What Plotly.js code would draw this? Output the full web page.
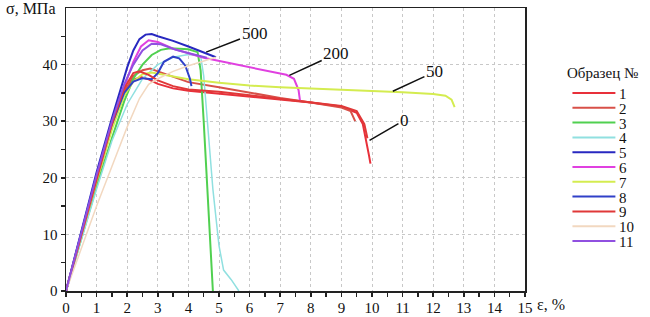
<!DOCTYPE html>
<html>
<head>
<meta charset="utf-8">
<script src="https://cdn.plot.ly/plotly-3.0.1.min.js"></script>
<style>
html,body{margin:0;padding:0;background:#fff;}
#chart{width:650px;height:317px;}
</style>
</head>
<body>
<div id="chart"></div>
<script>
// ---- data ----
const sampleNames = ["1","2","3","4","5","6","7","8","9","10","11"];
const sampleColors = ["#e8303a","#d85048","#50d050","#90e0e0","#2828c0","#e040e0","#d4ec50","#3040c8","#e03838","#f2d8c0","#9050e0"];

const x1 = [0,1,1.5,1.9,2.2,2.45,2.7,3.0,3.5,4.0,5.0,6.0,7.0,8.0,9.0,9.5,9.7,9.8,9.9,9.95];
const y1 = [0,20,29.5,35.5,37.3,37.8,37.4,36.6,35.8,35.4,34.9,34.3,33.8,33.3,32.6,31.5,29.5,27,24,22.5];

const x2 = [0,1,1.5,1.9,2.2,2.5,2.75,3.0,3.5,4.0,5.0,6.0,7.0,8.0,9.0,9.3,9.4,9.45];
const y2 = [0,19.5,29,35,38,39,39.3,38.8,37.8,36.9,36.0,35.0,34.1,33.3,32.4,31.8,30.5,30];

const x3 = [0,1,1.5,1.9,2.2,2.5,2.8,3.1,3.4,4.0,4.3,4.4,4.5,4.6,4.7,4.8];
const y3 = [0,18.5,27,33.5,37.5,40,41.7,42.6,42.9,42.7,42.2,39,30,20,10,0];

const x4 = [0,1,1.5,2.0,2.5,3.0,3.5,4.0,4.4,4.5,4.65,4.8,5.0,5.15,5.4,5.65];
const y4 = [0,18,26.5,33,37.5,40,41.3,41.8,41.5,38,28,18,8,3.7,2,0];

const x5 = [0,0.5,1,1.5,1.8,2.0,2.2,2.4,2.6,2.8,3.0,3.5,4.0,4.5,4.9];
const y5 = [0,10.5,21,30.5,36,39.5,42.5,44.5,45.3,45.4,45,44.2,43.2,42.2,41.3];

const x6 = [0,1,1.5,1.9,2.2,2.45,2.7,3.0,3.5,4.5,5.5,6.5,7.2,7.45,7.6,7.65];
const y6 = [0,20,29.5,36,40.5,43.2,44.3,44,42.8,41.2,40.1,39,38.2,37.5,35.5,33.5];

const x7 = [0,1,1.5,1.9,2.2,2.5,2.8,3.2,4.0,5.0,6.0,7.0,8.0,9.0,10.0,11.0,12.0,12.4,12.6,12.7];
const y7 = [0,19.5,28.5,34.5,37,38.3,38.6,38.2,37.4,36.8,36.3,36,35.8,35.6,35.4,35.1,34.8,34.5,33.8,32.5];

const x8 = [0,1,1.5,1.9,2.2,2.5,2.8,3.0,3.2,3.5,3.7,3.9,4.05,4.1];
const y8 = [0,20.5,29.5,35,37,37.6,37.4,38.5,40.5,41.4,41.1,39.8,37.5,36.2];

const x9 = [0,1,1.5,1.9,2.2,2.4,2.7,3.0,3.5,4.0,5.0,6.0,7.0,8.0,9.0,9.5,9.75,9.85];
const y9 = [0,20,29.5,35.8,38.5,38.8,38.2,37.2,36.2,35.6,35.2,34.6,34.0,33.4,32.7,31.8,29.5,27];

const x10 = [0,1,1.5,2.0,2.4,2.7,3.0,3.5,4.0,4.5,4.9];
const y10 = [0,15,22,29,34,36.5,37.5,38.8,39.8,40.7,41.3];

const x11 = [0,1,1.5,1.9,2.2,2.5,2.8,3.1,3.6,4.2,4.6];
const y11 = [0,20.5,30,36.5,40,42.5,43.7,43.6,42.6,41.8,41.2];

const xs = [x1,x2,x3,x4,x5,x6,x7,x8,x9,x10,x11];
const ys = [y1,y2,y3,y4,y5,y6,y7,y8,y9,y10,y11];

const xTicks = [0,1,2,3,4,5,6,7,8,9,10,11,12,13,14,15];
const yTicks = [0,10,20,30,40];
const yMinor = [5,15,25,35,45];

// curve labels: text, point on curve, label centre
const curveLabels = ["500","200","50","0"];
const labelTipX = [4.58,7.3,10.68,9.92];
const labelTipY = [42.2,38.1,35.3,26.6];
const labelTxtX = [6.16,8.83,12.04,11.06];
const labelTxtY = [45.5,41.9,38.7,30.2];

// ---- chart ----
const FONT = "Liberation Serif";
const widths = [2,2,2,1.5,2,2,2,2,2,1.5,2];
const traces = xs.map((x,i)=>({
  x: x, y: ys[i], type:"scatter", mode:"lines", name: sampleNames[i],
  line:{color: sampleColors[i], width: widths[i]}, showlegend:false, hoverinfo:"skip"
}));

const annotations = curveLabels.map((t,i)=>({
  x: labelTipX[i], y: labelTipY[i], xref:"x", yref:"y",
  ax: labelTxtX[i], ay: labelTxtY[i], axref:"x", ayref:"y",
  text: t, showarrow:true, arrowhead:0, arrowwidth:1.5, arrowcolor:"#111",
  standoff:0, startstandoff:0, font:{family:FONT,size:17,color:"#111"},
  xanchor:"center", yanchor:"middle"
}));

annotations.push({
  xref:"paper", yref:"paper", x:0, y:1, xanchor:"right", yanchor:"middle",
  xshift:-8, yshift:0, text:"σ, МПа", showarrow:false,
  font:{family:FONT,size:16,color:"#111"}
});
annotations.push({
  xref:"paper", yref:"paper", x:1, y:0, xanchor:"left", yanchor:"top",
  xshift:10, yshift:-3, height:16, text:"ε, %", showarrow:false,
  font:{family:FONT,size:16,color:"#111"}
});

// manual legend
const shapes = [];
const W = 650, H = 317, ML = 66, MR = 124.5, MT = 8, MB = 26;
const pw = W-ML-MR, ph = H-MT-MB;
const px = v => (v-ML)/pw;
const py = v => (H-MB-v)/ph;
annotations.push({
  xref:"paper", yref:"paper", x:px(566), y:py(73), xanchor:"left", yanchor:"middle",
  text:"Образец №", showarrow:false, font:{family:FONT,size:15,color:"#111"}
});
sampleNames.forEach((n,i)=>{
  const yy = 93 + i*14.8;
  shapes.push({type:"line", xref:"paper", yref:"paper", x0:px(573), x1:px(616),
    y0:py(yy), y1:py(yy), line:{color:sampleColors[i], width:2}});
  annotations.push({xref:"paper", yref:"paper", x:px(618), y:py(yy+1), xanchor:"left",
    yanchor:"middle", height:12, text:n, showarrow:false, font:{family:FONT,size:15,color:"#111"}});
});

const axisCommon = {
  showline:true, linecolor:"#222", linewidth:1.5, mirror:true,
  ticks:"outside", ticklen:4, tickwidth:1.5, tickcolor:"#222",
  showgrid:true, gridcolor:"#c8c8c8", griddash:"dot", gridwidth:1,
  zeroline:false, tickfont:{family:FONT,size:15,color:"#111"}, fixedrange:true
};

const layout = {
  width:W, height:H, margin:{l:ML, r:MR, t:MT, b:MB},
  paper_bgcolor:"#fff", plot_bgcolor:"#fff", showlegend:false,
  font:{family:FONT},
  xaxis: Object.assign({}, axisCommon, {
    range:[0,15], tickmode:"array", tickvals:xTicks, ticktext:xTicks.map(String),
    ticklabelstandoff:-2,
    minor:{tick0:0.5, dtick:1, ticks:"outside", ticklen:4, tickwidth:1.5, tickcolor:"#222", showgrid:false}
  }),
  yaxis: Object.assign({}, axisCommon, {
    range:[0,50], tickmode:"array", tickvals:yTicks, ticktext:yTicks.map(String),
    minor:{tickmode:"array", tickvals:yMinor, ticks:"outside", ticklen:4, tickwidth:1.5, tickcolor:"#222", showgrid:false}
  }),
  annotations: annotations, shapes: shapes
};

Plotly.newPlot("chart", traces, layout, {staticPlot:true, displayModeBar:false});
</script>
</body>
</html>
